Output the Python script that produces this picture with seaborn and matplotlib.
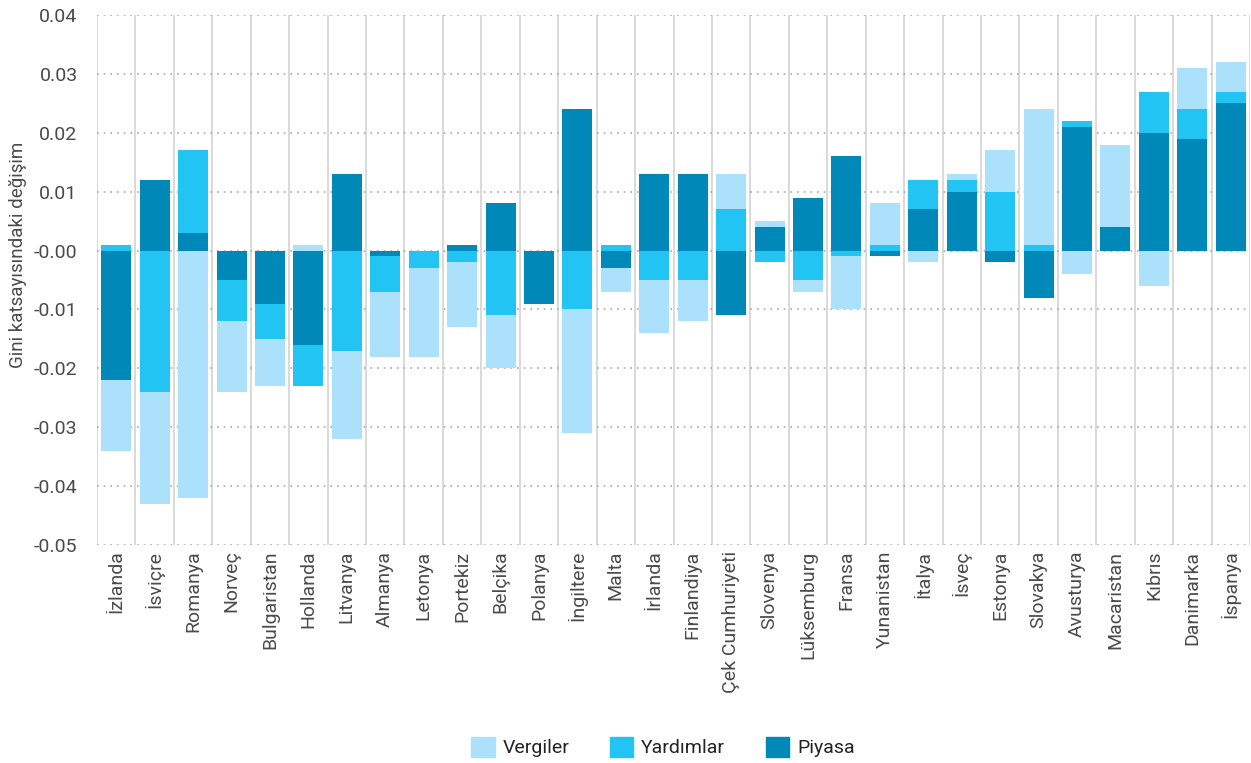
import numpy as np
import pandas as pd
import matplotlib
matplotlib.use("Agg")
import matplotlib.pyplot as plt
import seaborn as sns
from matplotlib.patches import Patch
from matplotlib.ticker import MultipleLocator, FixedLocator

countries = ["İzlanda", "İsviçre", "Romanya", "Norveç", "Bulgaristan", "Hollanda",
             "Litvanya", "Almanya", "Letonya", "Portekiz", "Belçika", "Polanya",
             "İngiltere", "Malta", "İrlanda", "Finlandiya", "Çek Cumhuriyeti",
             "Slovenya", "Lüksemburg", "Fransa", "Yunanistan", "İtalya", "İsveç",
             "Estonya", "Slovakya", "Avusturya", "Macaristan", "Kıbrıs",
             "Danimarka", "İspanya"]

# components of the change in the Gini coefficient
piyasa = [-0.022, 0.012, 0.003, -0.005, -0.009, -0.016, 0.013, -0.001, 0.0, 0.001,
          0.008, -0.009, 0.024, -0.003, 0.013, 0.013, -0.011, 0.004, 0.009, 0.016,
          -0.001, 0.007, 0.010, -0.002, -0.008, 0.021, 0.004, 0.020, 0.019, 0.025]
yardimlar = [0.001, -0.024, 0.014, -0.007, -0.006, -0.007, -0.017, -0.006, -0.003, -0.002,
             -0.011, 0.0, -0.010, 0.001, -0.005, -0.005, 0.007, -0.002, -0.005, -0.001,
             0.001, 0.005, 0.002, 0.010, 0.001, 0.001, 0.0, 0.007, 0.005, 0.002]
vergiler = [-0.012, -0.019, -0.042, -0.012, -0.008, 0.001, -0.015, -0.011, -0.015, -0.011,
            -0.009, 0.0, -0.021, -0.004, -0.009, -0.007, 0.006, 0.001, -0.002, -0.009,
            0.007, -0.002, 0.001, 0.007, 0.023, -0.004, 0.014, -0.006, 0.007, 0.005]

c_verg = "#abe1fa"
c_yard = "#22c4f4"
c_piy = "#0089b8"

p = np.array(piyasa)
y = np.array(yardimlar)
v = np.array(vergiler)
pos = lambda a: np.clip(a, 0, None)
neg = lambda a: np.clip(a, None, 0)

# stacking order from zero outwards: Piyasa, Yardımlar, Vergiler (per sign)
layers = [
    (pos(p) + pos(y) + pos(v), c_verg),
    (neg(p) + neg(y) + neg(v), c_verg),
    (pos(p) + pos(y), c_yard),
    (neg(p) + neg(y), c_yard),
    (pos(p), c_piy),
    (neg(p), c_piy),
]

sns.set_style("white")
plt.rcParams["font.family"] = ["Roboto", "DejaVu Sans"]

fig = plt.figure(figsize=(12.51, 7.63), dpi=100)
ax = fig.add_axes([97 / 1251, 1 - 545 / 763, 1153 / 1251, 530 / 763])

for vals, col in layers:
    df = pd.DataFrame({"ulke": countries, "deger": vals})
    sns.barplot(data=df, x="ulke", y="deger", color=col, saturation=1,
                width=0.78, errorbar=None, linewidth=0, ax=ax, zorder=3)

ax.set_xlim(-0.5, len(countries) - 0.5)
ax.set_ylim(-0.05, 0.04)
ax.yaxis.set_major_locator(MultipleLocator(0.01))
ax.set_yticklabels([f"{t:.2f}" for t in ax.get_yticks()])

# horizontal dotted grid
ax.grid(axis="y", linestyle=(0, (1, 3)), color="#aaaaaa", linewidth=1.2, zorder=0)
# vertical separators between categories
ax.xaxis.set_minor_locator(FixedLocator(np.arange(-0.5, len(countries), 1.0)))
ax.grid(axis="x", which="minor", color="#d9d9d9", linewidth=1.4, linestyle="-", zorder=0)
ax.grid(axis="x", which="major", visible=False)
ax.tick_params(axis="x", which="minor", length=10, color="#d9d9d9", width=1.4)
ax.tick_params(axis="x", which="major", length=0, pad=4)
ax.tick_params(axis="y", length=0, pad=14)

for s in ax.spines.values():
    s.set_visible(False)

plt.setp(ax.get_xticklabels(), rotation=90, fontsize=14, color="#4a4a4a")
plt.setp(ax.get_yticklabels(), fontsize=14, color="#4a4a4a")

ax.set_xlabel("")
ax.set_ylabel("Gini katsayısındaki değişim", fontsize=13.5, color="#4a4a4a")
ax.yaxis.set_label_coords(-0.061, 0.547)

handles = [Patch(color=c_verg, label="Vergiler"),
           Patch(color=c_yard, label="Yardımlar"),
           Patch(color=c_piy, label="Piyasa")]
fig.legend(handles=handles, loc="center", bbox_to_anchor=(663 / 1251, 1 - 747 / 763),
           ncol=3, frameon=False, fontsize=14, handlelength=1.2, handleheight=1.2,
           handletextpad=0.4, columnspacing=2.1, labelcolor="#222222")

fig.savefig("out.png", dpi=100)
